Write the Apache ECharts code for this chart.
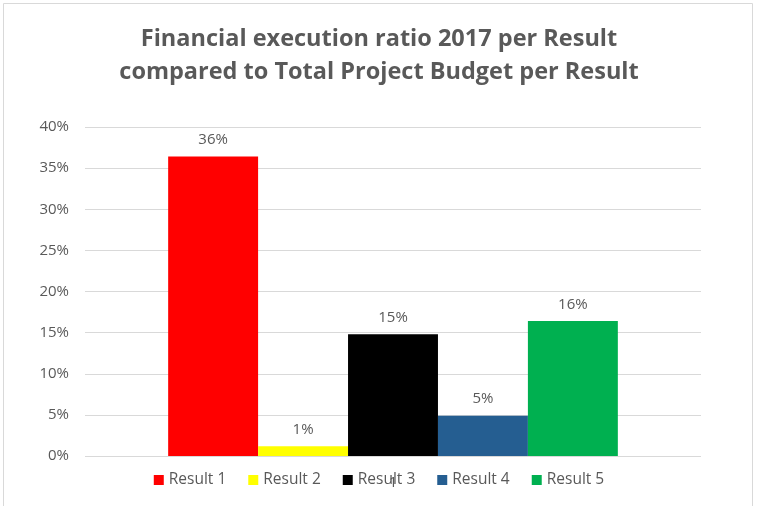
<!DOCTYPE html>
<html>
<head>
<meta charset="utf-8">
<script src="https://cdn.jsdelivr.net/npm/echarts@6/dist/echarts.min.js"></script>
<style>
  html, body { margin: 0; padding: 0; background: #fff; }
  #chart { width: 758px; height: 506px; }
</style>
</head>
<body>
<div id="chart"></div>
<script>
const categories = ['1']
const seriesNames = ['Result 1', 'Result 2', 'Result 3', 'Result 4', 'Result 5']
const seriesValues = [36.4, 1.2, 14.8, 4.9, 16.4]
const seriesColors = ['#ff0000', '#ffff00', '#000000', '#255e91', '#00b050']
const yTicks = [0, 5, 10, 15, 20, 25, 30, 35, 40]

const textColor = '#595959'
const font = 'Open Sans'

const chart = echarts.init(document.getElementById('chart'))

chart.setOption({
  animation: false,
  title: {
    text: 'Financial execution ratio 2017 per Result\ncompared to Total Project Budget per Result',
    left: 'center',
    top: 18,
    textStyle: { color: textColor, fontFamily: font, fontSize: 23.5, fontWeight: 'bold', lineHeight: 33 },
  },
  graphic: [{
    type: 'rect',
    shape: { x: 3.5, y: 3.5, width: 749, height: 520 },
    style: { fill: 'none', stroke: '#d9d9d9', lineWidth: 1 },
    silent: true,
  }],
  legend: {
    data: seriesNames,
    bottom: 13,
    left: 'center',
    itemWidth: 10,
    itemHeight: 10,
    itemGap: 22,
    icon: 'rect',
    textStyle: { color: textColor, fontFamily: font, fontSize: 15.5 },
  },
  grid: { left: 85, right: 57, top: 127, bottom: 50 },
  xAxis: {
    type: 'category',
    data: categories,
    axisLine: { show: false },
    axisTick: { show: false },
    axisLabel: { color: textColor, fontFamily: font, fontSize: 15, margin: 19 },
  },
  yAxis: {
    type: 'value',
    min: yTicks[0],
    max: yTicks[yTicks.length - 1],
    interval: 5,
    axisLine: { show: false },
    axisTick: { show: false },
    splitLine: { lineStyle: { color: '#d9d9d9' } },
    axisLabel: { color: textColor, fontFamily: font, fontSize: 15, margin: 16, formatter: (v) => v + '%' },
  },
  series: seriesNames.map((name, i) => ({
    name,
    type: 'bar',
    data: [seriesValues[i]],
    barGap: '0%',
    barCategoryGap: '27%',
    itemStyle: { color: seriesColors[i] },
    label: {
      show: true,
      position: 'top',
      distance: 9,
      color: textColor,
      fontFamily: font,
      fontSize: 15,
      formatter: (p) => Math.round(p.value) + '%',
    },
  })),
})
</script>
</body>
</html>
